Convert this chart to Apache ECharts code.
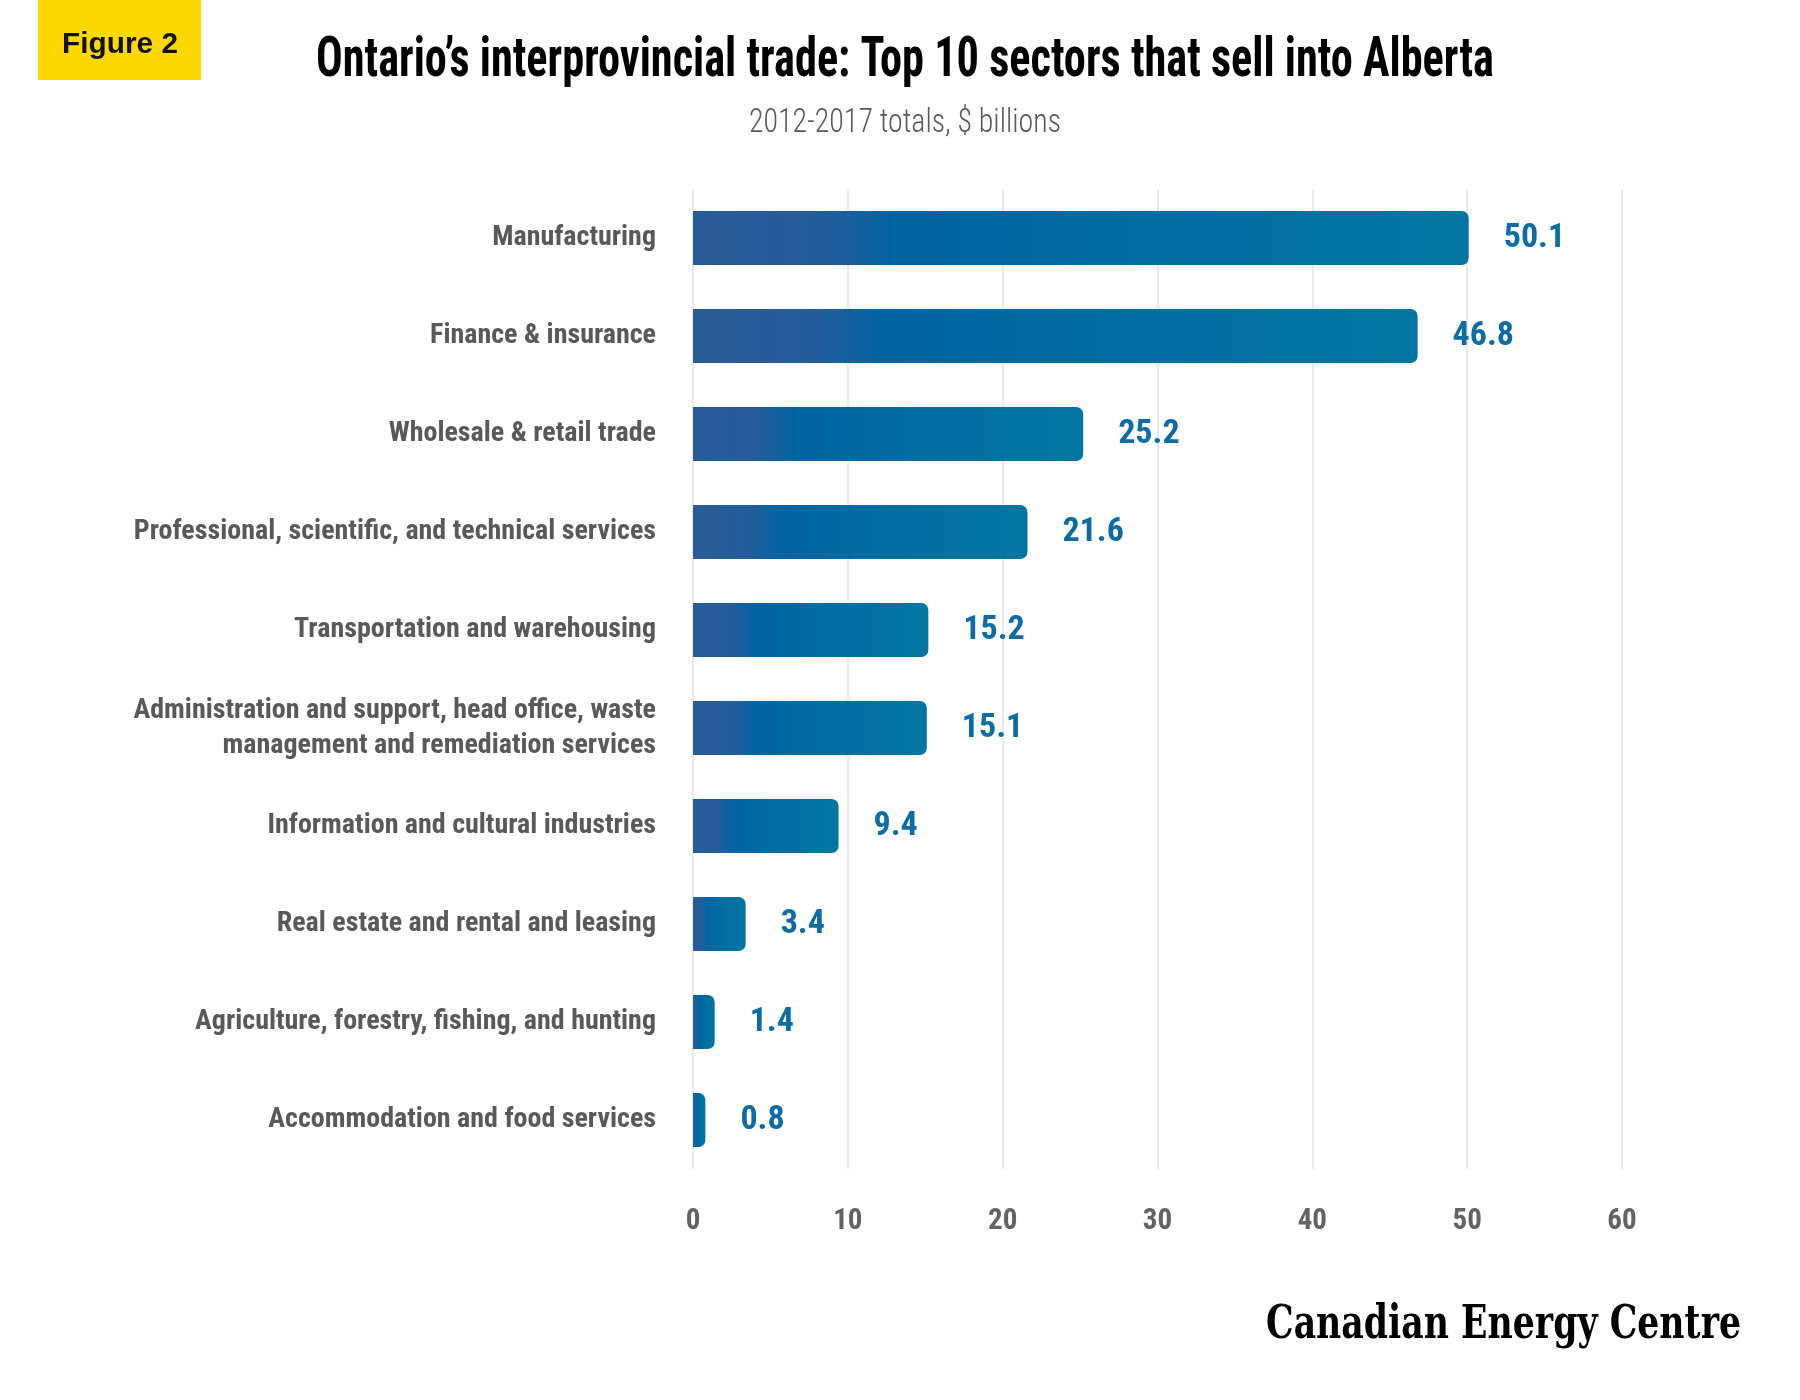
<!DOCTYPE html>
<html>
<head>
<meta charset="utf-8">
<script src="https://cdn.jsdelivr.net/npm/echarts@6/dist/echarts.min.js"></script>
<style>
  html, body { margin: 0; padding: 0; background: #ffffff; }
  #chart { width: 1800px; height: 1400px; }
</style>
</head>
<body>
<div id="chart"></div>
<script>
// ---------- data ----------
const categories = [
  'Manufacturing',
  'Finance & insurance',
  'Wholesale & retail trade',
  'Professional, scientific, and technical services',
  'Transportation and warehousing',
  'Administration and support, head office, waste\nmanagement and remediation services',
  'Information and cultural industries',
  'Real estate and rental and leasing',
  'Agriculture, forestry, fishing, and hunting',
  'Accommodation and food services'
];
const values = [50.1, 46.8, 25.2, 21.6, 15.2, 15.1, 9.4, 3.4, 1.4, 0.8];
const axisMin = 0;
const axisMax = 60;
const axisStep = 10;

const titleText = 'Ontario\u2019s interprovincial trade: Top 10 sectors that sell into Alberta';
const subtitleText = '2012-2017 totals, $ billions';
const figureText = 'Figure 2';
const brandText = 'Canadian Energy Centre';

// ---------- font helpers ----------
const measureCtx = document.createElement('canvas').getContext('2d');
function widthOf(text, font) {
  measureCtx.font = font;
  return measureCtx.measureText(text).width;
}
const probe = 'Manufacturing 50.1 abcdefghijklmnop';
function hasFont(name) {
  const a = widthOf(probe, "bold 40px '" + name + "', monospace");
  const b = widthOf(probe, 'bold 40px monospace');
  const c = widthOf(probe, "bold 40px '" + name + "', serif");
  const d = widthOf(probe, 'bold 40px serif');
  return Math.abs(a - b) > 0.5 && Math.abs(c - d) > 0.5;
}
function pickFont(list, fallback) {
  for (const f of list) { if (hasFont(f)) return "'" + f + "'"; }
  return fallback;
}
const NARROW = pickFont(['Roboto Condensed', 'DejaVu Sans Condensed'], "'Roboto'");
const SERIF = pickFont(['DejaVu Serif Condensed', 'DejaVu Serif', 'Liberation Serif'], 'serif');
const SANS = pickFont(['Liberation Sans', 'Roboto'], 'sans-serif');

function fitText(text, font, targetWidth, x, y, align, fill) {
  const s = targetWidth / widthOf(text, font);
  return {
    type: 'text',
    x: x, y: y,
    scaleX: s,
    silent: true,
    style: {
      text: text, x: 0, y: 0, font: font, fill: fill,
      textAlign: align, textVerticalAlign: 'middle',
      align: align, verticalAlign: 'middle'
    }
  };
}

// ---------- chart ----------
const chart = echarts.init(document.getElementById('chart'), null, { renderer: 'canvas' });

const barGradient = new echarts.graphic.LinearGradient(0, 0, 1, 0, [
  { offset: 0, color: '#2A5B98' },
  { offset: 0.17, color: '#245C9B' },
  { offset: 0.27, color: '#0064A2' },
  { offset: 0.6, color: '#016EA2' },
  { offset: 1, color: '#0275A0' }
]);

const titleFont = 'bold 55px ' + NARROW;
const subFont = '300 34px ' + NARROW;
const figFont = 'bold 29px ' + SANS;
const brandFont = 'bold 47px ' + SERIF;

const option = {
  backgroundColor: '#ffffff',
  animation: false,
  grid: { left: 693, right: 178, top: 189, height: 980, containLabel: false, outerBoundsMode: 'none' },
  xAxis: {
    type: 'value',
    min: axisMin, max: axisMax, interval: axisStep,
    axisLine: { show: false },
    axisTick: { show: false },
    splitLine: { show: true, lineStyle: { color: '#E3E3E3', width: 1.5 } },
    axisLabel: {
      color: '#626366', fontFamily: NARROW, fontWeight: 'bold', fontSize: 29, margin: 38
    }
  },
  yAxis: {
    type: 'category',
    inverse: true,
    data: categories,
    axisLine: { show: false },
    axisTick: { show: false },
    splitLine: { show: false },
    axisLabel: {
      color: '#58595B', fontFamily: NARROW, fontWeight: 'bold', fontSize: 28,
      lineHeight: 35, margin: 37, align: 'right'
    }
  },
  series: [{
    type: 'bar',
    data: values,
    barWidth: 54,
    itemStyle: { color: barGradient, borderRadius: [0, 7, 7, 0] },
    label: {
      show: true, position: 'right', distance: 35,
      color: '#0B6DA3', fontFamily: NARROW, fontWeight: 'bold', fontSize: 34,
      formatter: p => p.value.toFixed(1)
    }
  }],
  graphic: [
    { type: 'rect', silent: true, shape: { x: 38, y: 0, width: 163, height: 80 }, style: { fill: '#FFD800' } },
    fitText(figureText, figFont, 116, 120, 45, 'center', '#111111'),
    fitText(titleText, titleFont, 1178, 905, 62, 'center', '#000000'),
    fitText(subtitleText, subFont, 312, 905, 123, 'center', '#58595B'),
    fitText(brandText, brandFont, 475, 1741, 1326, 'right', '#000000')
  ]
};
chart.setOption(option);
</script>
</body>
</html>
